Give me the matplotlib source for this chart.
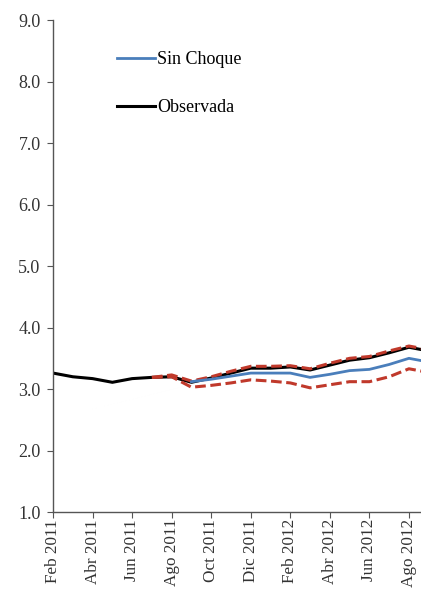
import matplotlib
matplotlib.use("Agg")
import matplotlib.pyplot as plt
import numpy as np

plt.rcParams['font.family'] = ['Liberation Serif', 'DejaVu Serif']

# Monthly observations, Feb 2011 .. Sep 2012
months = ["Feb 2011", "Mar 2011", "Abr 2011", "May 2011", "Jun 2011", "Jul 2011",
          "Ago 2011", "Sep 2011", "Oct 2011", "Nov 2011", "Dic 2011", "Ene 2012",
          "Feb 2012", "Mar 2012", "Abr 2012", "May 2012", "Jun 2012", "Jul 2012",
          "Ago 2012", "Sep 2012"]

observada = [3.26, 3.20, 3.17, 3.11, 3.17, 3.19, 3.20, 3.11, 3.18, 3.26, 3.34, 3.34,
             3.36, 3.31, 3.39, 3.47, 3.51, 3.59, 3.68, 3.62]

# Counterfactual path (starts Sep 2011)
sin_choque = [None] * 7 + [3.12, 3.16, 3.21, 3.26, 3.26, 3.26, 3.19, 3.24, 3.30,
                            3.32, 3.40, 3.50, 3.44]

# Band bounds (start Jul 2011)
banda_sup = [None] * 5 + [3.19, 3.23, 3.13, 3.20, 3.29, 3.37, 3.37, 3.38, 3.33,
                           3.42, 3.50, 3.53, 3.62, 3.70, 3.64]
banda_inf = [None] * 5 + [3.19, 3.20, 3.03, 3.06, 3.10, 3.15, 3.13, 3.10, 3.02,
                           3.07, 3.12, 3.12, 3.20, 3.33, 3.27]

tick_labels = months[::2]

def series(vals):
    x = np.array([i for i, v in enumerate(vals) if v is not None], dtype=float)
    y = np.array([v for v in vals if v is not None], dtype=float)
    return x, y

fig = plt.figure(figsize=(4.21, 5.89), dpi=100)
ax = fig.add_axes([0.126, 0.1307, 0.874, 0.835])

xs, ys = series(banda_sup)
ax.plot(xs, ys, color='#C0392B', lw=2.2, ls=(0, (3.5, 1.5)), zorder=3)
xs, ys = series(banda_inf)
ax.plot(xs, ys, color='#C0392B', lw=2.2, ls=(0, (3.5, 1.5)), zorder=3)
xs, ys = series(sin_choque)
ax.plot(xs, ys, color='#4A7EBB', lw=2.0, label='Sin Choque', zorder=4)
xs, ys = series(observada)
ax.plot(xs, ys, color='black', lw=2.2, label='Observada', zorder=2)

ax.set_ylim(1.0, 9.0)
ax.set_yticks(np.arange(1.0, 9.01, 1.0))
ax.set_yticklabels([f"{v:.1f}" for v in np.arange(1.0, 9.01, 1.0)])
ax.set_xlim(0, 18.61)
ax.set_xticks(np.arange(0, len(months), 2))
ax.set_xticklabels(tick_labels, rotation=90, va='top', ha='center')

for s in ['top', 'right']:
    ax.spines[s].set_visible(False)
for s in ['left', 'bottom']:
    ax.spines[s].set_color('#555555')
    ax.spines[s].set_linewidth(1.0)
ax.tick_params(axis='both', direction='out', length=4, color='#555555',
               labelsize=13, labelcolor='#333333')
ax.tick_params(axis='x', pad=1, labelsize=12.3)
ax.tick_params(axis='y', pad=5)

leg = ax.legend(loc='upper left', bbox_to_anchor=(0.13, 0.97), frameon=False,
                fontsize=13, handlelength=2.1, handletextpad=0.1,
                labelspacing=1.7)

fig.savefig('out.png', dpi=100)
